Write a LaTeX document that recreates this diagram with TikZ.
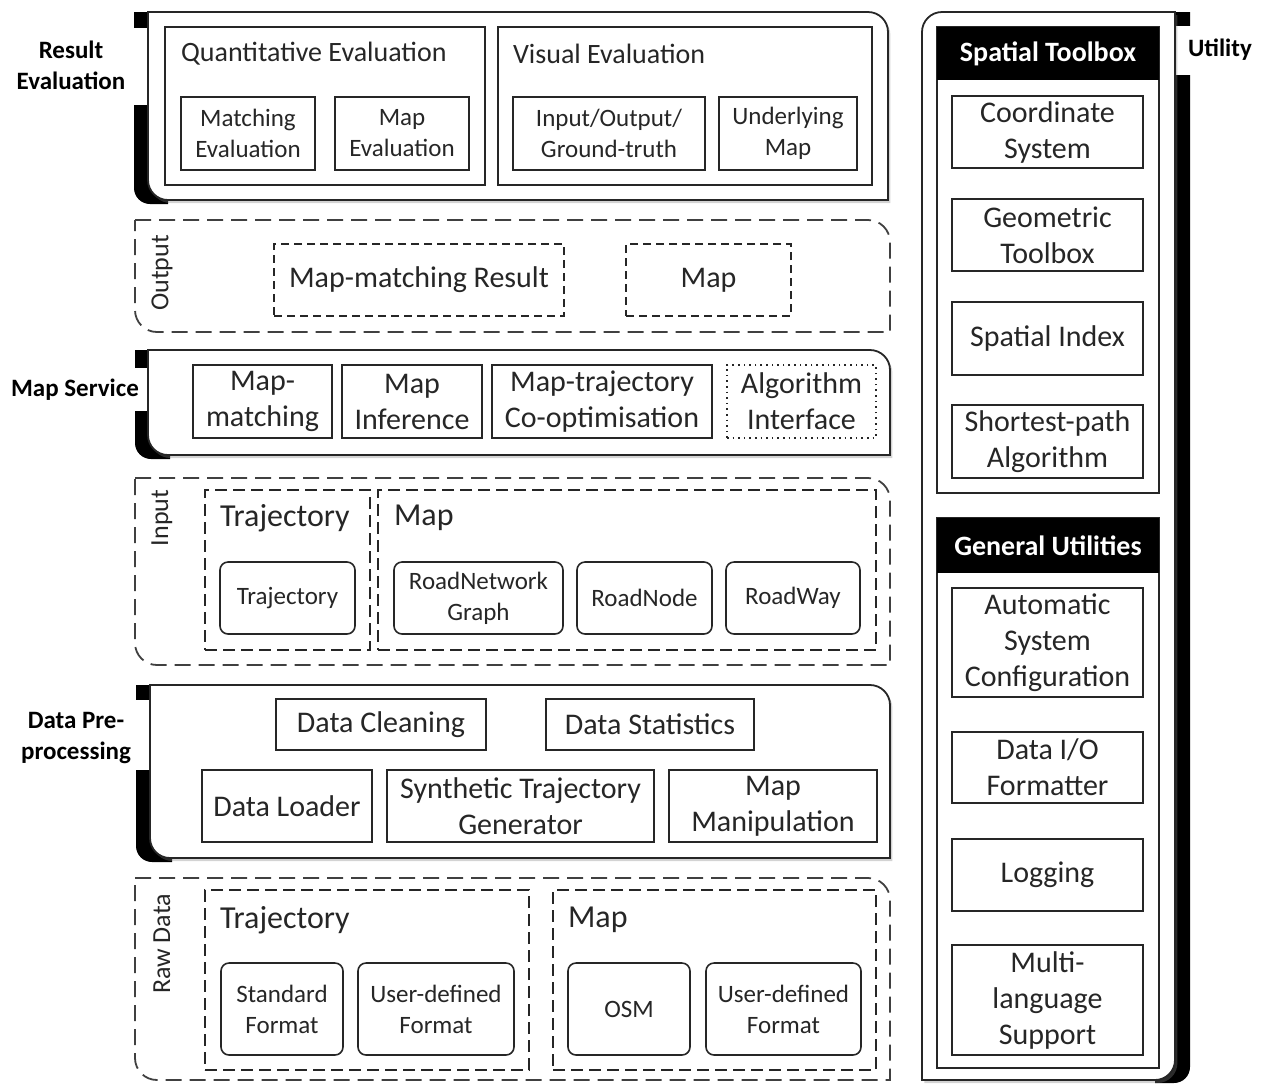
\documentclass[tikz,border=0pt]{standalone}
\usepackage{fontspec}
\setmainfont{Carlito}
\usetikzlibrary{fit,shadows}

\newcommand{\fsub}{\fontsize{12.5}{15.5}\selectfont}
\newcommand{\fbig}{\fontsize{15}{18}\selectfont}
\newcommand{\ftitle}{\fontsize{16}{19}\selectfont}
\newcommand{\flab}{\fontsize{12.5}{15.5}\selectfont\bfseries}

\tikzset{
  box/.style={draw=black!85, line width=.8pt, fill=white, inner sep=0pt},
  rbox/.style={box, rounded corners=4pt},
  dbox/.style={box, dash pattern=on 4pt off 2.5pt},
  grp/.style={draw=black!85, line width=.8pt, inner sep=0pt},
  dgrp/.style={grp, dash pattern=on 6pt off 3pt},
  layer/.style={draw=black!85, line width=.9pt, fill=white,
    drop shadow={shadow xshift=1.2pt, shadow yshift=-1.5pt, opacity=.35}},
  dlayer/.style={draw=black!75, line width=.9pt, dash pattern=on 8pt off 4pt},
  lt/.style={align=center, text=black!85, inner sep=0pt},
  big/.style={label={[lt, font=\fbig]center:#1}},
  small/.style={label={[lt, font=\fsub]center:#1}},
  head/.style={fill=black, inner sep=0pt,
    label={[lt, text=white, font=\fontsize{14}{16}\selectfont\bfseries]center:#1}},
  sidelab/.style={align=center, font=\flab},
  rotlab/.style={rotate=90, font=\fontsize{13}{15}\selectfont, text=black!85},
  ttl/.style={anchor=west, text=black!85},
}

\begin{document}
\begin{tikzpicture}[x=0.5pt, y=-0.5pt]
\useasboundingbox (0,0) rectangle (1263,1083);

% Result Evaluation
\begin{scope}
    \fill (134,12) -- (168,12) -- (168,204) -- (150,204) arc (90:180:16) -- cycle;
    \fill[white] (126,28) rectangle (147,105);
    \draw[layer] (148,12) -- (868,12) arc (-90:0:20) -- (888,200) -- (168,200) arc (90:180:20) -- cycle;
    \node[sidelab] (lres) at (71,65) {Result\\Evaluation};
    \node[grp, fit={(165,27) (485,185)}] (quant) {};
    \node[grp, fit={(498,27) (872,185)}] (visual) {};
    \node[ttl, font=\fontsize{14}{16}\selectfont] (tquant) at (174,54) {Quantitative Evaluation};
    \node[ttl, font=\fontsize{14}{16}\selectfont] (tvisual) at (506,54) {Visual Evaluation};
    \node[box, small={Matching\\Evaluation}, fit={(181,97) (315,170)}] (mateval) {};
    \node[box, small={Map\\Evaluation}, fit={(335,97) (469,170)}] (mapeval) {};
    \node[box, small={Input/Output/\\Ground-truth}, fit={(513,97) (705,170)}] (iogt) {};
    \node[box, small={Underlying\\Map}, fit={(719,97) (857,170)}] (undmap) {};
\end{scope}

% Output
\begin{scope}
    \draw[dlayer] (135,220) -- (868,220) arc (-90:0:22) -- (890,332) -- (157,332) arc (90:180:22) -- cycle;
    \node[rotlab] (lout) at (162,273) {Output};
    \node[dbox, big={Map-matching Result}, fit={(274,244) (564,316)}] (mmres) {};
    \node[dbox, big={Map}, fit={(626,244) (791,316)}] (outmap) {};
\end{scope}

% Map Service
\begin{scope}
    \fill (135,350) -- (170,350) -- (170,459) -- (151,459) arc (90:180:16) -- cycle;
    \fill[white] (126,368) rectangle (147,411);
    \draw[layer] (148,350) -- (870,350) arc (-90:0:20) -- (890,455) -- (168,455) arc (90:180:20) -- cycle;
    \node[sidelab] (lsrv) at (75,390) {Map Service};
    \node[box, big={Map-\\matching}, fit={(193,365) (332,438)}] (mm) {};
    \node[box, big={Map\\Inference}, fit={(342,365) (482,438)}] (minf) {};
    \node[box, big={Map-trajectory\\Co-optimisation}, fit={(492,365) (712,438)}] (coopt) {};
    \node[box, dotted, big={Algorithm\\Interface}, fit={(727,365) (876,438)}] (algif) {};
\end{scope}

% Input
\begin{scope}
    \draw[dlayer] (135,478) -- (868,478) arc (-90:0:22) -- (890,665) -- (157,665) arc (90:180:22) -- cycle;
    \node[rotlab] (linp) at (162,518) {Input};
    \node[dgrp, fit={(205,490) (370,650)}] (intraj) {};
    \node[dgrp, fit={(378,490) (876,650)}] (inmap) {};
    \node[ttl, font=\ftitle] (tintraj) at (213,518) {Trajectory};
    \node[ttl, font=\ftitle] (tinmap) at (387,518) {Map};
    \node[rbox, small={Trajectory}, fit={(220,562) (355,634)}] (traj) {};
    \node[rbox, small={RoadNetwork\\Graph}, fit={(394,562) (563,634)}] (rngraph) {};
    \node[rbox, small={RoadNode}, fit={(577,562) (712,634)}] (rnode) {};
    \node[rbox, small={RoadWay}, fit={(726,562) (860,634)}] (rway) {};
\end{scope}

% Data Pre-processing
\begin{scope}
    \fill (136,685) -- (172,685) -- (172,862) -- (152,862) arc (90:180:16) -- cycle;
    \fill[white] (126,700) rectangle (149,770);
    \draw[layer] (150,685) -- (870,685) arc (-90:0:20) -- (890,858) -- (170,858) arc (90:180:20) -- cycle;
    \node[sidelab] (lpre) at (76,738) {Data Pre-\\processing};
    \node[box, big={Data Cleaning}, fit={(276,699) (486,750)}] (clean) {};
    \node[box, big={Data Statistics}, fit={(546,699) (754,750)}] (stats) {};
    \node[box, big={Data Loader}, fit={(202,770) (372,842)}] (loader) {};
    \node[box, big={Synthetic Trajectory\\Generator}, fit={(387,770) (654,842)}] (synth) {};
    \node[box, big={Map\\Manipulation}, fit={(669,770) (877,842)}] (manip) {};
\end{scope}

% Raw Data
\begin{scope}
    \draw[dlayer] (135,878) -- (868,878) arc (-90:0:22) -- (890,1080) -- (157,1080) arc (90:180:22) -- cycle;
    \node[rotlab] (lraw) at (162,944) {Raw Data};
    \node[dgrp, fit={(205,890) (529,1070)}] (rawtraj) {};
    \node[dgrp, fit={(553,890) (876,1070)}] (rawmap) {};
    \node[ttl, font=\ftitle] (trawtraj) at (213,920) {Trajectory};
    \node[ttl, font=\ftitle] (trawmap) at (561,920) {Map};
    \node[rbox, small={Standard\\Format}, fit={(221,963) (343,1055)}] (stdfmt) {};
    \node[rbox, small={User-defined\\Format}, fit={(358,963) (514,1055)}] (usrtraj) {};
    \node[rbox, small={OSM}, fit={(568,963) (690,1055)}] (osm) {};
    \node[rbox, small={User-defined\\Format}, fit={(706,963) (861,1055)}] (usrmap) {};
\end{scope}

% Utility
\begin{scope}
    \fill (1190,12) -- (1155,12) -- (1155,1083) -- (1174,1083) arc (90:0:16) -- cycle;
    \fill[white] (1176,26) rectangle (1198,75);
    \draw[layer] (1175,12) -- (942,12) arc (270:180:20) -- (922,1080) -- (1155,1080) arc (90:0:20) -- cycle;
    \node[sidelab] (lutil) at (1220,50) {Utility};

    \node[grp, fill=white, fit={(937,27) (1159,493)}] (spatial) {};
    \node[head={Spatial Toolbox}, fit={(937,27) (1159,80)}] (hspatial) {};
    \foreach \ya/\yb/\t [count=\i] in {96/168/{Coordinate\\System}, 199/271/{Geometric\\Toolbox},
                                      302/375/{Spatial Index}, 405/478/{Shortest-path\\Algorithm}}
        \node[box, big=\t, fit={(952,\ya) (1143,\yb)}] (st\i) {};

    \node[grp, fill=white, fit={(937,518) (1159,1068)}] (general) {};
    \node[head={General Utilities}, fit={(937,518) (1159,573)}] (hgeneral) {};
    \foreach \ya/\yb/\t [count=\i] in {588/697/{Automatic\\System\\Configuration}, 732/803/{Data I/O\\Formatter},
                                      839/911/{Logging}, 945/1055/{Multi-\\language\\Support}}
        \node[box, big=\t, fit={(952,\ya) (1143,\yb)}] (gu\i) {};
\end{scope}
\end{tikzpicture}
\end{document}
